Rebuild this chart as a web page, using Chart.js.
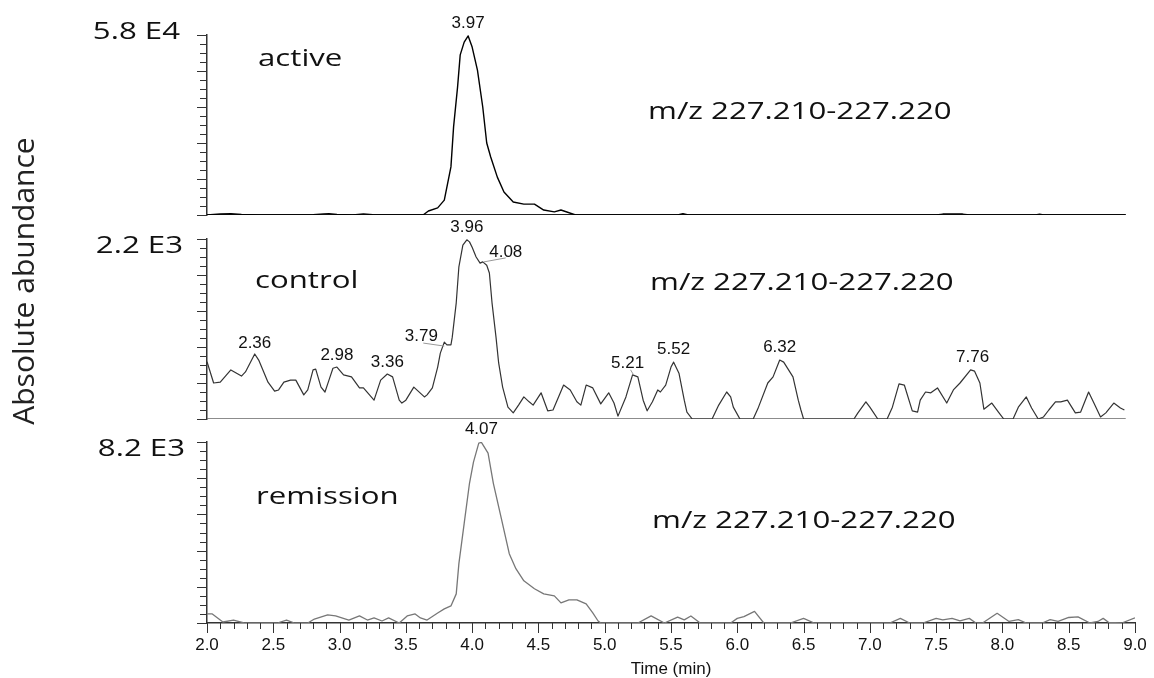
<!DOCTYPE html>
<html>
<head>
<meta charset="utf-8">
<script src="https://cdn.jsdelivr.net/npm/chart.js@4.4.0/dist/chart.umd.min.js"></script>
<style>
html, body { margin: 0; padding: 0; background: #fff; }
#wrap { position: relative; width: 1154px; height: 678px; }
#wrap canvas { position: absolute; left: 0; top: 0; }
</style>
</head>
<body>
<div id="wrap">
<canvas id="cActive" width="1154" height="678"></canvas>
<canvas id="cControl" width="1154" height="678"></canvas>
<canvas id="cRemission" width="1154" height="678"></canvas>
</div>
<script>
// retention time (min) and absolute abundance
const activeTime = [2.00, 2.10, 2.18, 2.26, 2.40, 2.60, 2.80, 2.88, 2.92, 2.98,
  3.10, 3.18, 3.25, 3.40, 3.55, 3.63, 3.67, 3.74, 3.79, 3.84,
  3.86, 3.89, 3.91, 3.94, 3.97, 4.00, 4.04, 4.08, 4.11, 4.14,
  4.19, 4.24, 4.31, 4.39, 4.47, 4.54, 4.62, 4.67, 4.78, 5.00,
  5.55, 5.59, 5.63, 6.50, 7.50, 7.55, 7.62, 7.70, 7.75, 8.25,
  8.28, 8.31, 8.93];
const activeAbund = [0, 300, 400, 200, 0, 0, 100, 350, 400, 200,
  0, 350, 100, 0, 0, 0, 1300, 2300, 4800, 15500,
  28400, 41200, 51600, 55700, 57700, 54100, 46700, 34800, 23200, 18700,
  12200, 7400, 4200, 3500, 3500, 1600, 1000, 1600, 0, 0,
  0, 400, 0, 0, 0, 300, 350, 300, 0, 0,
  250, 0, 0];

const controlTime = [2.00, 2.05, 2.10, 2.18, 2.26, 2.29, 2.36, 2.39, 2.46, 2.51,
  2.54, 2.58, 2.63, 2.67, 2.73, 2.76, 2.80, 2.82, 2.86, 2.89,
  2.92, 2.95, 2.98, 3.03, 3.09, 3.15, 3.18, 3.26, 3.31, 3.36,
  3.40, 3.45, 3.47, 3.50, 3.56, 3.64, 3.66, 3.70, 3.74, 3.76,
  3.79, 3.81, 3.84, 3.85, 3.88, 3.90, 3.93, 3.96, 3.98, 4.00,
  4.03, 4.06, 4.08, 4.11, 4.13, 4.15, 4.18, 4.20, 4.23, 4.27,
  4.31, 4.35, 4.39, 4.43, 4.46, 4.52, 4.57, 4.61, 4.69, 4.74,
  4.79, 4.82, 4.86, 4.91, 4.97, 5.03, 5.07, 5.10, 5.16, 5.21,
  5.25, 5.29, 5.32, 5.36, 5.40, 5.42, 5.46, 5.50, 5.52, 5.56,
  5.60, 5.62, 5.66, 5.81, 5.86, 5.92, 5.95, 5.97, 6.02, 6.12,
  6.16, 6.23, 6.27, 6.32, 6.35, 6.42, 6.46, 6.48, 6.50, 6.88,
  6.91, 6.97, 7.00, 7.06, 7.13, 7.17, 7.22, 7.26, 7.32, 7.36,
  7.38, 7.42, 7.46, 7.51, 7.58, 7.63, 7.68, 7.76, 7.79, 7.83,
  7.86, 7.92, 7.97, 8.01, 8.08, 8.12, 8.18, 8.22, 8.27, 8.31,
  8.35, 8.40, 8.44, 8.49, 8.55, 8.59, 8.65, 8.69, 8.74, 8.78,
  8.84, 8.89, 8.92];
const controlAbund = [700, 440, 450, 600, 525, 575, 795, 720, 450, 340,
  355, 450, 475, 475, 295, 355, 600, 610, 390, 330,
  475, 620, 635, 540, 515, 380, 380, 230, 475, 550,
  515, 230, 195, 230, 390, 270, 295, 380, 635, 805,
  940, 905, 905, 1000, 1420, 1860, 2125, 2190, 2165, 2100,
  1980, 1905, 1920, 1880, 1785, 1420, 1000, 685, 390, 145,
  75, 170, 270, 210, 170, 320, 100, 110, 415, 355,
  210, 170, 415, 380, 185, 320, 195, 35, 270, 540,
  515, 230, 100, 210, 355, 330, 415, 635, 695, 560,
  230, 85, 0, 0, 170, 330, 270, 145, 0, 0,
  145, 440, 515, 720, 695, 515, 230, 110, 0, 0,
  75, 210, 145, 0, 0, 145, 430, 415, 100, 85,
  230, 330, 320, 380, 195, 355, 440, 600, 585, 440,
  120, 195, 85, 0, 0, 145, 270, 135, 0, 25,
  110, 210, 210, 230, 75, 85, 330, 195, 25, 75,
  195, 135, 110];

const remissionTime = [2.00, 2.04, 2.12, 2.20, 2.28, 2.53, 2.60, 2.66, 2.76, 2.81,
  2.91, 2.97, 3.07, 3.15, 3.21, 3.26, 3.32, 3.37, 3.45, 3.51,
  3.57, 3.61, 3.66, 3.74, 3.79, 3.84, 3.88, 3.90, 3.94, 3.98,
  4.01, 4.05, 4.07, 4.12, 4.16, 4.22, 4.28, 4.33, 4.39, 4.47,
  4.54, 4.62, 4.67, 4.73, 4.79, 4.86, 4.91, 4.95, 4.97, 5.25,
  5.35, 5.45, 5.55, 5.60, 5.65, 5.72, 5.95, 6.00, 6.05, 6.13,
  6.20, 6.40, 6.50, 6.58, 7.15, 7.23, 7.30, 7.40, 7.50, 7.55,
  7.62, 7.68, 7.75, 7.80, 7.85, 7.96, 8.05, 8.12, 8.18, 8.30,
  8.36, 8.42, 8.50, 8.57, 8.66, 8.72, 8.76, 8.80, 8.90, 9.00];
const remissionAbund = [410, 410, 45, 135, 0, 0, 135, 0, 0, 180,
  365, 320, 135, 320, 135, 230, 90, 230, 0, 320,
  410, 230, 135, 455, 640, 775, 1320, 2690, 4510, 6330,
  7290, 8150, 8180, 7700, 6330, 4740, 3140, 2460, 1910, 1550,
  1320, 1230, 910, 1050, 1050, 865, 455, 90, 0, 0,
  320, 0, 270, 140, 320, 0, 0, 210, 290, 530,
  0, 0, 210, 0, 0, 210, 0, 0, 210, 140,
  210, 100, 210, 0, 0, 440, 70, 150, 0, 0,
  150, 70, 250, 280, 0, 70, 210, 30, 0, 230];

// y-axis full scale of each trace
const activeMax = 58000;
const controlMax = 2200;
const remissionMax = 8200;

// drawn zero line of the two upper traces
const baseTime = [2.0, 8.93];
const baseAbund = [0, 0];

// labelled peaks
const activePeaks = [3.97];
const controlPeaks = [2.36, 2.98, 3.36, 3.79, 3.96, 4.08, 5.21, 5.52, 6.32, 7.76];
const remissionPeaks = [4.07];

const xTickValues = { min: 2.0, max: 9.0, step: 0.1 };

// layout and style
const AXIS_LEFT = 207;
const STRETCH = 1.3;
const bigFont = '24px "Open Sans", sans-serif';
const smallFont = '17px "Liberation Sans", Arial, sans-serif';

// peak label offsets in px; leader = [x1, y1, x2, y2] relative to the peak point
const peakStyle = {
  '3.79': { dx: -23, dy: -6, leader: [0, 4, -21, 1] },
  '4.08': { dx: 23, dy: -10, leader: [1, 0, 23, -4] },
  '5.21': { dx: -5, dy: -12, leader: [1, 0, -2, -5] },
  '2.36': { dx: 0, dy: -11 },
  '2.98': { dx: 0, dy: -12 },
  '3.36': { dx: 0, dy: -12 },
  '7.76': { dx: 2, dy: -13 }
};

function points(ts, vs) {
  return ts.map((t, i) => ({ x: t, y: vs[i] }));
}

function wideText(ctx, txt, x, y) {
  ctx.save();
  ctx.translate(x, y);
  ctx.scale(STRETCH, 1);
  ctx.fillText(txt, 0, 0);
  ctx.restore();
}

const tickMarks = {
  id: 'tickMarks',
  afterDraw(chart, args, opts) {
    const ctx = chart.ctx;
    const ys = chart.scales.y, xs = chart.scales.x;
    ctx.save();
    ctx.strokeStyle = '#333';
    ctx.lineWidth = 1;
    ctx.beginPath();
    ys.ticks.forEach((t, i) => {
      const py = Math.round(ys.getPixelForValue(t.value)) + 0.5;
      const len = i % 4 === 0 ? 10 : 7;
      ctx.moveTo(ys.right - len, py);
      ctx.lineTo(ys.right, py);
    });
    if (opts.xTicks) {
      xs.ticks.forEach(t => {
        const px = Math.round(xs.getPixelForValue(t.value)) + 0.5;
        const len = t.label ? 10 : 6;
        ctx.moveTo(px, xs.top);
        ctx.lineTo(px, xs.top + len);
      });
    }
    ctx.stroke();
    ctx.restore();
  }
};

const panelLabels = {
  id: 'panelLabels',
  afterDraw(chart, args, opts) {
    const ctx = chart.ctx;
    const xs = chart.scales.x, ys = chart.scales.y;
    ctx.save();
    ctx.fillStyle = '#111';
    ctx.font = bigFont;
    ctx.textBaseline = 'alphabetic';
    ctx.textAlign = 'right';
    wideText(ctx, opts.max, opts.maxAt[0], opts.maxAt[1]);
    ctx.textAlign = 'left';
    wideText(ctx, opts.name, opts.nameAt[0], opts.nameAt[1]);
    wideText(ctx, 'm/z 227.210-227.220', opts.mzAt[0], opts.mzAt[1]);

    // peak retention times
    const data = chart.data.datasets[0].data;
    ctx.font = smallFont;
    ctx.textAlign = 'center';
    ctx.textBaseline = 'middle';
    opts.peaks.forEach(t => {
      let best = data[0];
      data.forEach(d => { if (Math.abs(d.x - t) < Math.abs(best.x - t)) best = d; });
      const px = xs.getPixelForValue(t);
      const py = ys.getPixelForValue(best.y);
      const st = peakStyle[t.toFixed(2)] || { dx: 0, dy: -13 };
      if (st.leader) {
        const l = st.leader;
        ctx.strokeStyle = '#999';
        ctx.lineWidth = 1;
        ctx.beginPath();
        ctx.moveTo(px + l[0], py + l[1]);
        ctx.lineTo(px + l[2], py + l[3]);
        ctx.stroke();
      }
      ctx.fillText(t.toFixed(2), px + st.dx, py + st.dy);
    });

    if (opts.axisTitles) {
      ctx.fillText('Time (min)', (xs.left + xs.right) / 2, 669);
      ctx.save();
      ctx.font = '30px "Open Sans", sans-serif';
      ctx.fillStyle = '#222';
      ctx.translate(25, 281);
      ctx.rotate(-Math.PI / 2);
      ctx.fillText('Absolute abundance', 0, 0);
      ctx.restore();
    }
    ctx.restore();
  }
};

function yScale(max) {
  return {
    min: 0,
    max: max,
    ticks: { display: false, stepSize: max / 20 },
    grid: { display: false, drawTicks: false },
    border: { display: true, color: '#333', width: 1.5 },
    afterFit: s => { s.width = AXIS_LEFT; s.paddingTop = 0; s.paddingBottom = 0; }
  };
}

function makeChart(id, cfg) {
  const datasets = [{
    data: points(cfg.time, cfg.abund),
    borderColor: cfg.color,
    borderWidth: cfg.width,
    pointRadius: 0,
    tension: 0,
    borderJoinStyle: 'round'
  }];
  if (cfg.baseColor) {
    datasets.push({
      data: points(baseTime, baseAbund),
      borderColor: cfg.baseColor,
      borderWidth: cfg.baseWidth,
      pointRadius: 0
    });
  }
  const x = cfg.showX ? {
    type: 'linear',
    min: xTickValues.min,
    max: xTickValues.max,
    ticks: {
      stepSize: xTickValues.step,
      autoSkip: false,
      maxRotation: 0,
      padding: 12,
      color: '#111',
      font: { family: '"Liberation Sans", Arial, sans-serif', size: 17 },
      callback: v => Math.abs(v * 2 - Math.round(v * 2)) < 1e-6 ? v.toFixed(1) : ''
    },
    grid: { display: false, drawTicks: false },
    border: { display: true, color: '#333', width: 1.5 },
    afterFit: s => { s.height = 678 - 623; s.paddingLeft = 0; s.paddingRight = 0; }
  } : {
    type: 'linear',
    display: false,
    min: xTickValues.min,
    max: xTickValues.max
  };

  return new Chart(document.getElementById(id), {
    type: 'line',
    data: { datasets: datasets },
    options: {
      responsive: false,
      animation: false,
      events: [],
      layout: { padding: cfg.padding },
      scales: { x: x, y: yScale(cfg.max) },
      plugins: {
        legend: { display: false },
        tooltip: { enabled: false },
        tickMarks: { xTicks: cfg.showX },
        panelLabels: cfg.labels
      }
    },
    plugins: [tickMarks, panelLabels]
  });
}

makeChart('cActive', {
  time: activeTime, abund: activeAbund, max: activeMax,
  color: '#000', width: 1.4, baseColor: '#222', baseWidth: 2.2,
  showX: false,
  padding: { top: 35, bottom: 678 - 215, left: 0, right: 19 },
  labels: { max: '5.8 E4', maxAt: [180, 39], name: 'active', nameAt: [258, 66], mzAt: [648, 119], peaks: activePeaks }
});

makeChart('cControl', {
  time: controlTime, abund: controlAbund, max: controlMax,
  color: '#333', width: 1.2, baseColor: '#666', baseWidth: 1.6,
  showX: false,
  padding: { top: 239, bottom: 678 - 419, left: 0, right: 19 },
  labels: { max: '2.2 E3', maxAt: [183, 253], name: 'control', nameAt: [255, 288], mzAt: [650, 290], peaks: controlPeaks }
});

makeChart('cRemission', {
  time: remissionTime, abund: remissionAbund, max: remissionMax,
  color: '#777', width: 1.3,
  showX: true,
  padding: { top: 442, bottom: 0, left: 0, right: 19 },
  labels: { max: '8.2 E3', maxAt: [185, 456], name: 'remission', nameAt: [256, 504], mzAt: [652, 528], peaks: remissionPeaks, axisTitles: true }
});
</script>
</body>
</html>
